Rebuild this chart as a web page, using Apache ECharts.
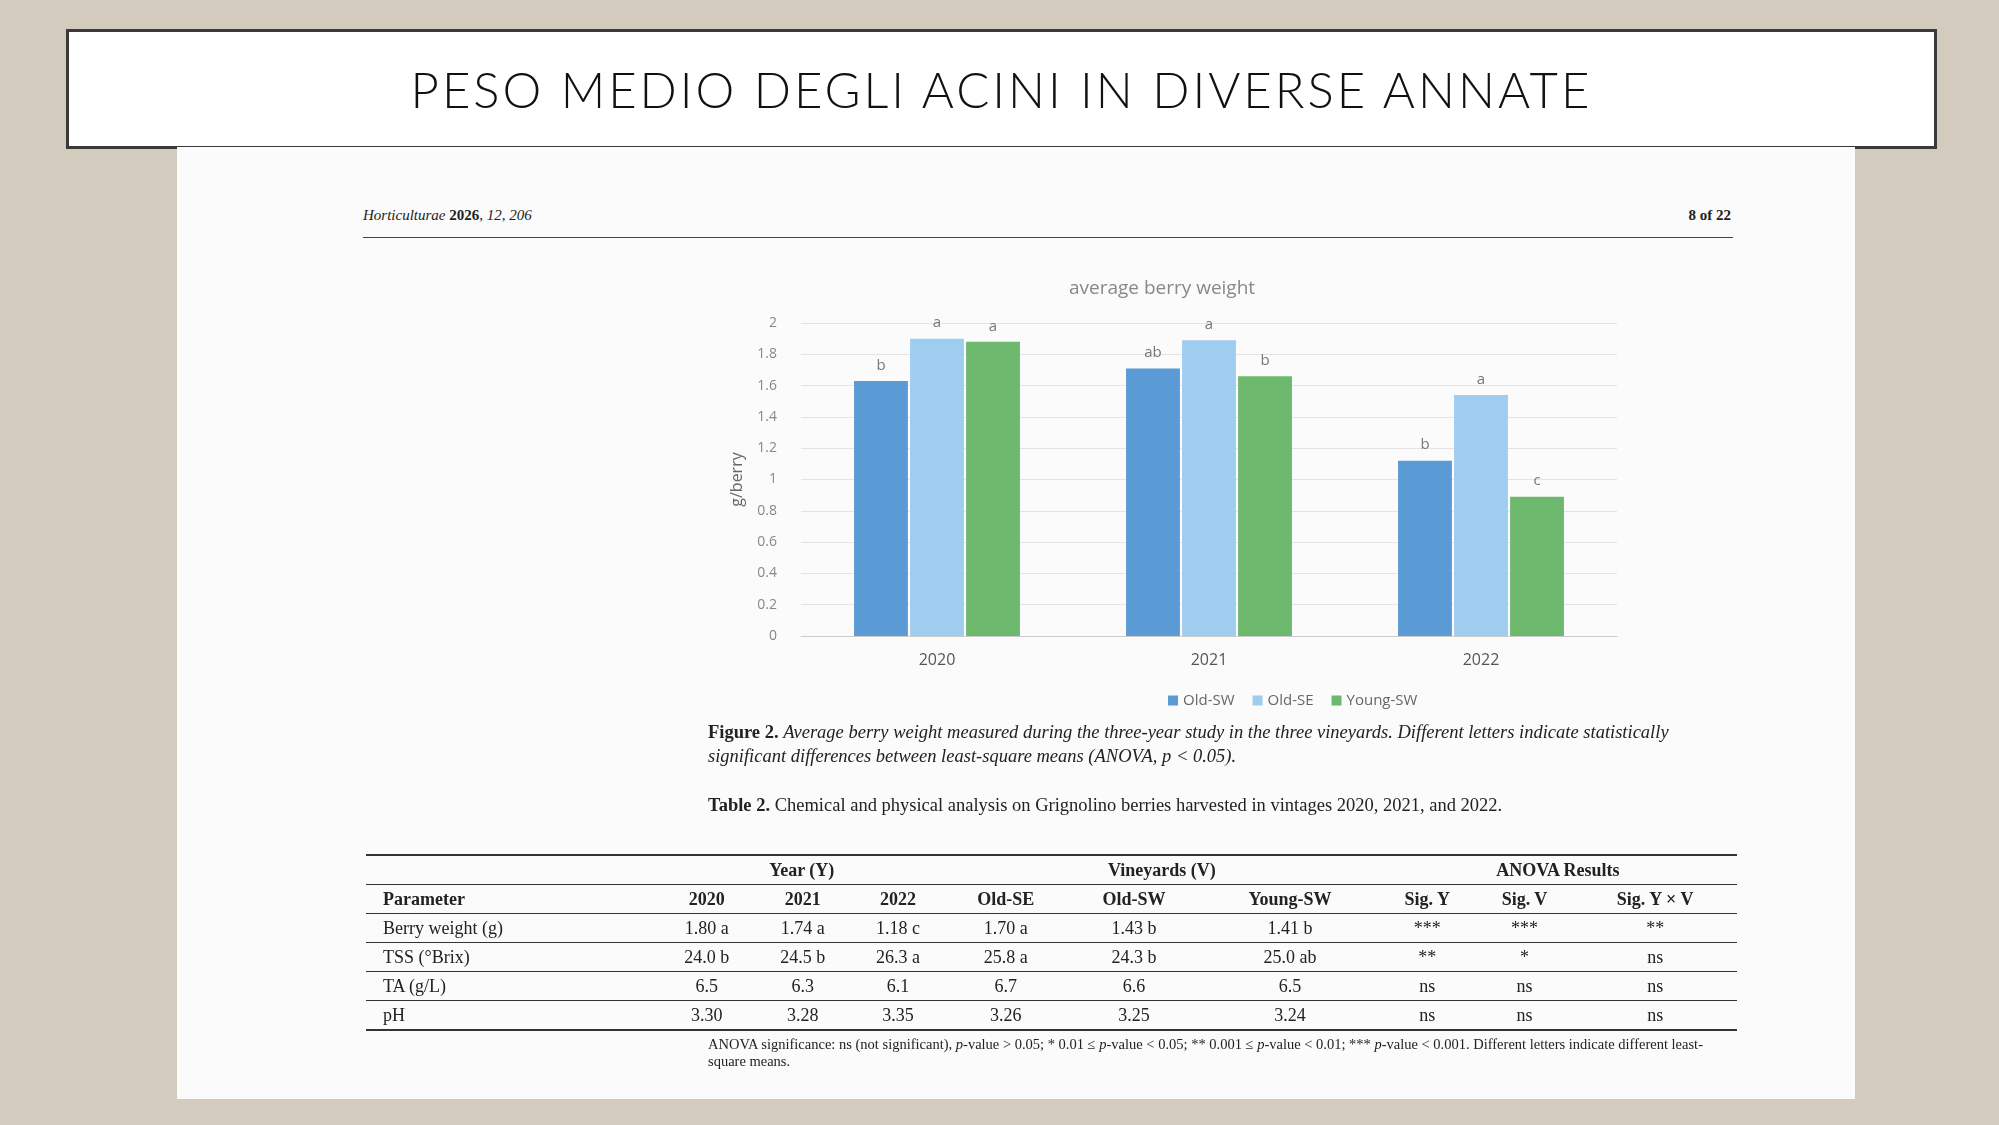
<!DOCTYPE html>
<html><head><meta charset="utf-8">
<script src="https://cdn.jsdelivr.net/npm/echarts@6/dist/echarts.min.js"></script>
<style>
body{margin:0;width:1999px;height:1125px;background:#d3cbbd;position:relative;overflow:hidden;font-family:"Liberation Serif",serif;}
.abs{position:absolute;}
#titlebox{left:66px;top:29px;width:1865px;height:114px;background:#fff;border:3px solid #3a3a3a;}
#titlebox div{text-align:center;font-family:Lato,"Open Sans",sans-serif;font-weight:300;font-size:49px;letter-spacing:3px;color:#111;line-height:114px;}
#page{left:177px;top:147px;width:1678px;height:952px;background:#fbfbfb;}
.t{font-size:18.5px;color:#222;}
table{border-collapse:collapse;font-size:18px;color:#222;line-height:1;}
td{padding:0;height:28px;text-align:center;}
</style></head>
<body>
<div id="titlebox" class="abs"><div>PESO MEDIO DEGLI ACINI IN DIVERSE ANNATE</div></div>
<div id="page" class="abs"></div>
<div class="abs t" style="left:363px;top:207px;font-style:italic;font-size:15px">Horticulturae <b style="font-style:normal">2026</b>, 12, 206</div>
<div class="abs t" style="left:1670px;top:207px;font-size:15px;width:61px;text-align:right"><b>8 of 22</b></div>
<div class="abs" style="left:363px;top:237px;width:1370px;height:1px;background:#444"></div>
<div id="chart" class="abs" style="left:0;top:0;width:1999px;height:1125px"></div>
<div class="abs t" style="left:708px;top:720px;width:1032px;line-height:24px"><b>Figure 2.</b> <i>Average berry weight measured during the three-year study in the three vineyards. Different letters indicate statistically significant differences between least-square means (ANOVA, p &lt; 0.05).</i></div>
<div class="abs t" style="left:708px;top:793px;width:1032px;line-height:25px"><b>Table 2.</b> Chemical and physical analysis on Grignolino berries harvested in vintages 2020, 2021, and 2022.</div>
<table class="abs" style="left:366px;top:854px;width:1371px;border-top:2px solid #333;border-bottom:2px solid #333">
<tr style="border-bottom:1px solid #333"><td></td><td colspan="3"><b>Year (Y)</b></td><td colspan="3"><b>Vineyards (V)</b></td><td colspan="3"><b>ANOVA Results</b></td></tr>
<tr style="border-bottom:1px solid #333"><td style="text-align:left;padding-left:17px"><b>Parameter</b></td><td><b>2020</b></td><td><b>2021</b></td><td><b>2022</b></td><td><b>Old-SE</b></td><td><b>Old-SW</b></td><td><b>Young-SW</b></td><td><b>Sig. Y</b></td><td><b>Sig. V</b></td><td><b>Sig. Y × V</b></td></tr>
<tr style="border-bottom:1px solid #333"><td style="text-align:left;padding-left:17px">Berry weight (g)</td><td>1.80 a</td><td>1.74 a</td><td>1.18 c</td><td>1.70 a</td><td>1.43 b</td><td>1.41 b</td><td>***</td><td>***</td><td>**</td></tr>
<tr style="border-bottom:1px solid #333"><td style="text-align:left;padding-left:17px">TSS (°Brix)</td><td>24.0 b</td><td>24.5 b</td><td>26.3 a</td><td>25.8 a</td><td>24.3 b</td><td>25.0 ab</td><td>**</td><td>*</td><td>ns</td></tr>
<tr style="border-bottom:1px solid #333"><td style="text-align:left;padding-left:17px">TA (g/L)</td><td>6.5</td><td>6.3</td><td>6.1</td><td>6.7</td><td>6.6</td><td>6.5</td><td>ns</td><td>ns</td><td>ns</td></tr>
<tr><td style="text-align:left;padding-left:17px">pH</td><td>3.30</td><td>3.28</td><td>3.35</td><td>3.26</td><td>3.25</td><td>3.24</td><td>ns</td><td>ns</td><td>ns</td></tr>
</table>
<div class="abs t" style="left:708px;top:1036px;width:1032px;line-height:17px;font-size:14.5px">ANOVA significance: ns (not significant), <i>p</i>-value &gt; 0.05; * 0.01 ≤ <i>p</i>-value &lt; 0.05; ** 0.001 ≤ <i>p</i>-value &lt; 0.01; *** <i>p</i>-value &lt; 0.001. Different letters indicate different least-square means.</div>
<script>
var years = ['2020', '2021', '2022'];
var oldSW = [1.63, 1.71, 1.12];
var oldSE = [1.90, 1.89, 1.54];
var youngSW = [1.88, 1.66, 0.89];
var lettersSW = ['b', 'ab', 'b'];
var lettersSE = ['a', 'a', 'a'];
var lettersY = ['a', 'b', 'c'];

var myChart = echarts.init(document.getElementById('chart'));
function ser(name, data, letters, color) {
    return {
        name: name, type: 'bar', data: data, barGap: '4%', barCategoryGap: '39%',
        itemStyle: { color: color },
        label: {
            show: true, position: 'top', distance: 8, color: '#777', fontSize: 15,
            fontFamily: 'Open Sans',
            formatter: function (p) { return letters[p.dataIndex]; }
        }
    };
}
var option = {
    textStyle: { fontFamily: 'Open Sans' },
    title: { text: 'average berry weight', left: 1157, top: 274, textAlign: 'center',
        textStyle: { color: '#888', fontSize: 19, fontWeight: 'normal' } },
    grid: { left: 801, right: 382, top: 323, bottom: 489 },
    legend: { top: 688, left: 1163, textAlign: 'center', itemWidth: 10, itemHeight: 10, itemGap: 18,
        textStyle: { color: '#666', fontSize: 15 }, icon: 'rect' },
    xAxis: { type: 'category', data: years,
        axisLine: { lineStyle: { color: '#ccc' } }, axisTick: { show: false },
        axisLabel: { color: '#555', fontSize: 16, margin: 16 } },
    yAxis: { type: 'value', min: 0, max: 2, interval: 0.2, name: 'g/berry',
        nameLocation: 'middle', nameGap: 56, nameTextStyle: { color: '#666', fontSize: 16 },
        axisLabel: { color: '#888', fontSize: 14, margin: 24,
            formatter: function (v) { return +v.toFixed(1); } },
        splitLine: { lineStyle: { color: '#e4e4e4' } } },
    series: [
        ser('Old-SW', oldSW, lettersSW, '#5b9bd5'),
        ser('Old-SE', oldSE, lettersSE, '#9fcdf0'),
        ser('Young-SW', youngSW, lettersY, '#6cb86c')
    ]
};
myChart.setOption(option);
</script>
</body></html>
